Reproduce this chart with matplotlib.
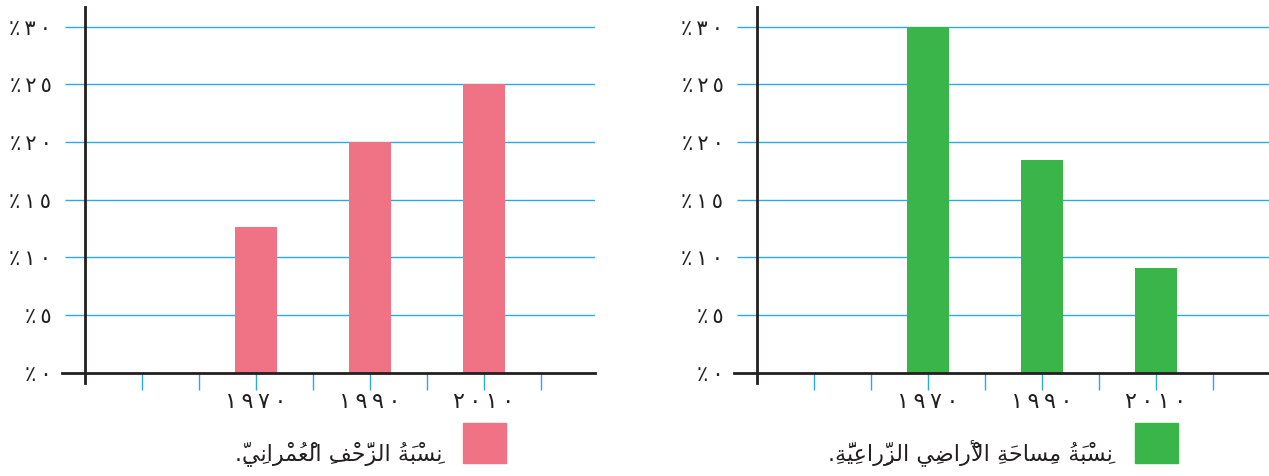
import matplotlib
matplotlib.use('Agg')
import matplotlib.pyplot as plt
from matplotlib.patches import Rectangle

# --- data ---
years = ['١٩٧٠', '١٩٩٠', '٢٠١٠']
urban_share = [12.6, 20, 25]          # نسبة الزحف العمراني
farm_share = [30, 18.4, 9.1]           # نسبة مساحة الأراضي الزراعية
y_values = [0, 5, 10, 15, 20, 25, 30]
y_labels = ['٪٠', '٪٥', '٪١٠', '٪١٥', '٪٢٠', '٪٢٥', '٪٣٠']
urban_label = 'نِسْبَةُ الزَّحْفِ الْعُمْرانِيِّ.'
farm_label = 'نِسْبَةُ مِساحَةِ الْأَراضِي الزِّراعِيَّةِ.'

PINK = '#F07285'
GREEN = '#3AB54A'
BLUE = '#29ABE2'
INK = '#231F20'
THIN = '\u2009'

# --- tiny arabic shaping (matplotlib has no bidi / joining) ---
FORMS = {
    'ا': ('\uFE8D', '\uFE8E', None, None),
    'أ': ('\uFE83', '\uFE84', None, None),
    'ب': ('\uFE8F', '\uFE90', '\uFE91', '\uFE92'),
    'ة': ('\uFE93', '\uFE94', None, None),
    'ح': ('\uFEA1', '\uFEA2', '\uFEA3', '\uFEA4'),
    'ر': ('\uFEAD', '\uFEAE', None, None),
    'ز': ('\uFEAF', '\uFEB0', None, None),
    'س': ('\uFEB1', '\uFEB2', '\uFEB3', '\uFEB4'),
    'ض': ('\uFEBD', '\uFEBE', '\uFEBF', '\uFEC0'),
    'ع': ('\uFEC9', '\uFECA', '\uFECB', '\uFECC'),
    'ف': ('\uFED1', '\uFED2', '\uFED3', '\uFED4'),
    'ل': ('\uFEDD', '\uFEDE', '\uFEDF', '\uFEE0'),
    'م': ('\uFEE1', '\uFEE2', '\uFEE3', '\uFEE4'),
    'ن': ('\uFEE5', '\uFEE6', '\uFEE7', '\uFEE8'),
    'ي': ('\uFEF1', '\uFEF2', '\uFEF3', '\uFEF4'),
    'لا': ('\uFEFB', '\uFEFC', None, None),
    'لأ': ('\uFEF7', '\uFEF8', None, None),
}
MARKS = set('\u064B\u064C\u064D\u064E\u064F\u0650\u0651\u0652')


def shape_ar(text):
    clusters = []
    for ch in text:
        if ch in MARKS and clusters:
            clusters[-1][1] += ch
        else:
            clusters.append([ch, ''])
    # lam-alef ligature
    merged = []
    for c in clusters:
        if merged and merged[-1][0] == 'ل' and c[0] in 'اأ':
            merged[-1] = ['ل' + c[0], merged[-1][1] + c[1]]
        else:
            merged.append(c)
    out = []
    for i, (b, m) in enumerate(merged):
        if b not in FORMS:
            out.append(b + m)
            continue
        prev = merged[i - 1][0] if i > 0 else None
        nxt = merged[i + 1][0] if i + 1 < len(merged) else None
        jp = prev in FORMS and FORMS[prev][2] is not None
        jn = FORMS[b][2] is not None and nxt in FORMS
        iso, fin, ini, med = FORMS[b]
        if jp and jn:
            g = med
        elif jp:
            g = fin
        elif jn:
            g = ini
        else:
            g = iso
        out.append(g + m)
    # visual order: whole string reversed, marks land just before their base
    return ''.join(out)[::-1]


plt.rcParams['font.family'] = ['DejaVu Sans']

fig = plt.figure(figsize=(12.69, 4.76), dpi=100)
W, H = 1269, 476


def panel(left_px, xmax, values, color, label, sq_x, text_x):
    ax = fig.add_axes([left_px / W, 93 / H, (xmax + 0.4) * 57 / W, 376 / H])
    ax.set_xlim(-0.4, xmax)
    ax.set_ylim(-0.9, 31.7)
    for y in y_values[1:]:
        ax.hlines(y, -0.35, xmax, color=BLUE, lw=1.0, zorder=1)
    ax.bar([3, 5, 7], values, width=0.74, color=color, zorder=2)

    for s in ['top', 'right']:
        ax.spines[s].set_visible(False)
    ax.spines['left'].set_position(('data', 0))
    ax.spines['bottom'].set_position(('data', 0))
    for s in ['left', 'bottom']:
        ax.spines[s].set_color(INK)
        ax.spines[s].set_linewidth(2)
        ax.spines[s].set_zorder(3)

    ax.set_xticks([3, 5, 7], labels=[THIN.join(y) for y in years])
    ax.set_xticks([1, 2, 4, 6, 8], minor=True)
    ax.tick_params(axis='x', which='both', direction='out', length=12, width=1,
                   color=BLUE, pad=2, labelsize=16, labelcolor=INK)
    ax.set_yticks(y_values, labels=[THIN.join(t) for t in y_labels])
    ax.tick_params(axis='y', length=0, pad=24, labelsize=15, labelcolor=INK)

    # legend swatch + text (square to the right of the text)
    fig.patches.append(Rectangle((sq_x / W, 13 / H), 43 / W, 40 / H, color=color,
                                 transform=fig.transFigure, figure=fig))
    fig.text(text_x / W, 16 / H, shape_ar(label), ha='right', va='baseline',
             fontsize=16, color=INK)
    return ax


panel(62, 8.95, urban_share, PINK, urban_label, 463, 442)
panel(734, 9.02, farm_share, GREEN, farm_label, 1135, 1113)

fig.savefig('out.png', dpi=100)
